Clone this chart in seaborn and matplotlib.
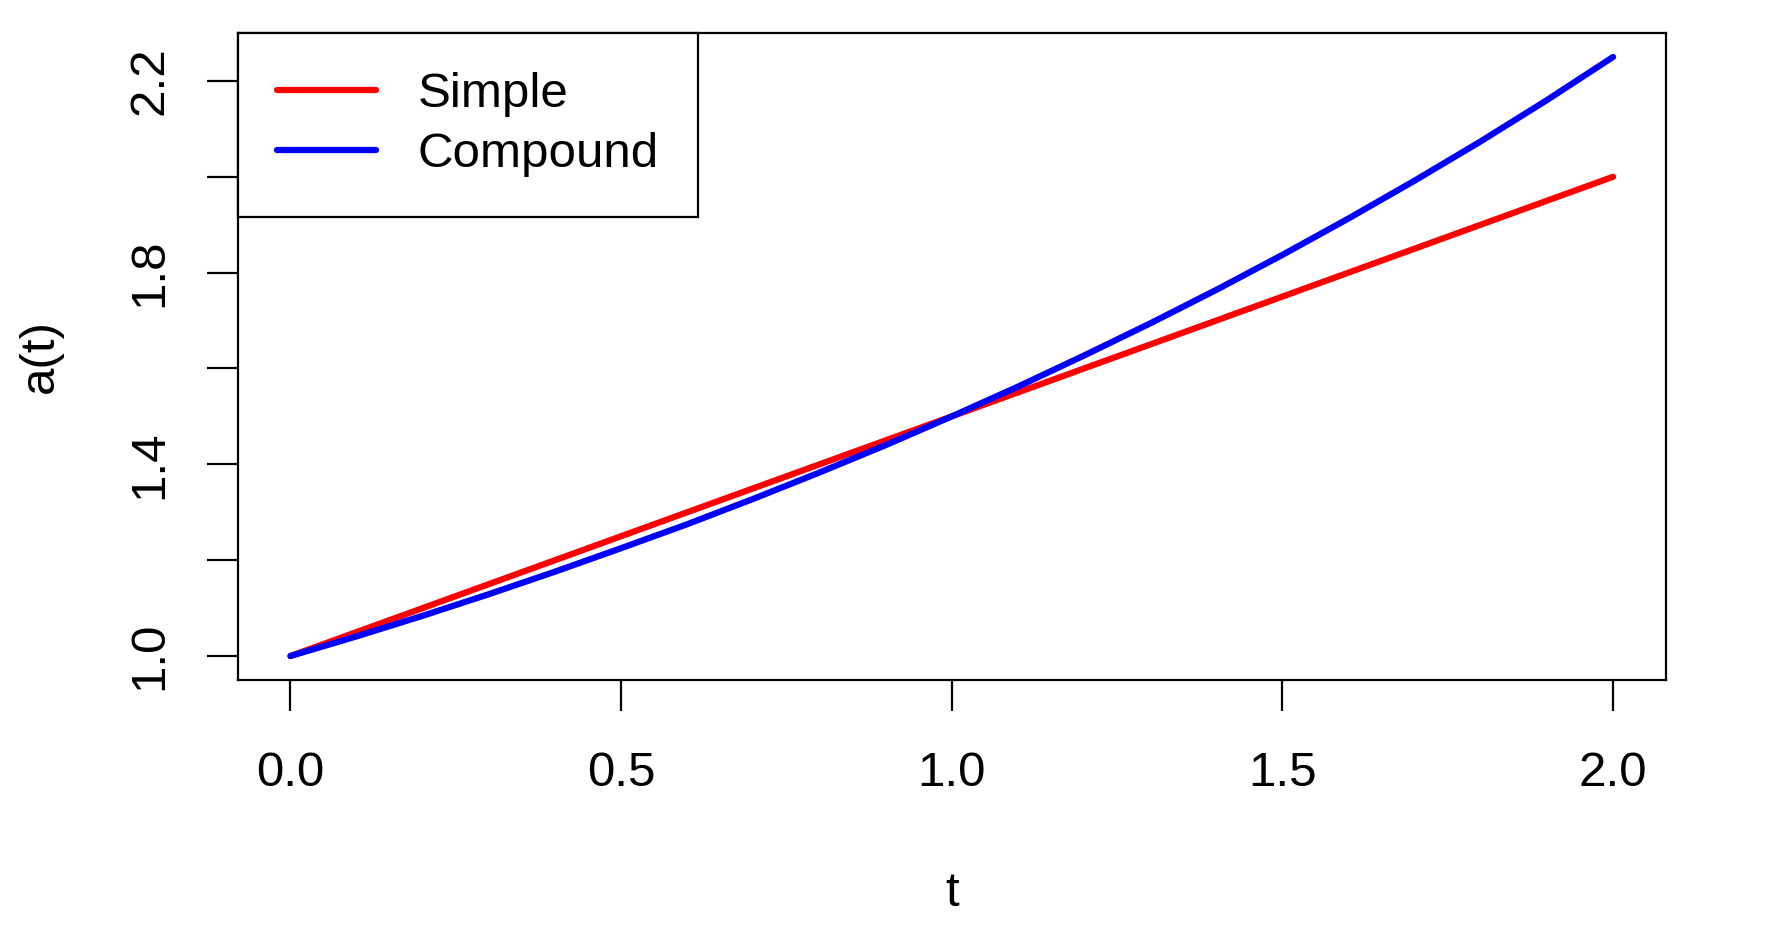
import numpy as np
import pandas as pd
import matplotlib
matplotlib.use("Agg")
import matplotlib.pyplot as plt
import seaborn as sns

# values
t_values = [0.0, 0.1, 0.2, 0.3, 0.4, 0.5, 0.6, 0.7, 0.8, 0.9, 1.0,
            1.1, 1.2, 1.3, 1.4, 1.5, 1.6, 1.7, 1.8, 1.9, 2.0]
simple_values = [1.00, 1.05, 1.10, 1.15, 1.20, 1.25, 1.30, 1.35, 1.40, 1.45, 1.50,
                 1.55, 1.60, 1.65, 1.70, 1.75, 1.80, 1.85, 1.90, 1.95, 2.00]
compound_values = [1.000, 1.041, 1.084, 1.129, 1.176, 1.225, 1.275, 1.328, 1.383, 1.440, 1.500,
                   1.562, 1.627, 1.694, 1.764, 1.837, 1.913, 1.992, 2.074, 2.160, 2.250]
series_names = ["Simple", "Compound"]
series_colors = ["red", "blue"]
x_ticks = [0.0, 0.5, 1.0, 1.5, 2.0]
y_ticks = [1.0, 1.2, 1.4, 1.6, 1.8, 2.0, 2.2]
y_ticklabels = ["1.0", "", "1.4", "", "1.8", "", "2.2"]

df = pd.DataFrame({
    "t": t_values * 2,
    "a": simple_values + compound_values,
    "kind": [series_names[0]] * len(t_values) + [series_names[1]] * len(t_values),
})

sns.set_theme(style="ticks")
plt.rcParams['font.family'] = ['Liberation Sans', 'DejaVu Sans']
plt.rcParams['text.color'] = 'black'

fs = 35.5

fig = plt.figure(figsize=(17.86, 9.32), dpi=100)
ax = fig.add_axes([0.133, 0.2704, 0.7998, 0.6942])

sns.lineplot(data=df, x="t", y="a", hue="kind", palette=series_colors,
             hue_order=series_names, linewidth=4.5, ax=ax, legend=False)
for line in ax.get_lines():
    line.set_solid_capstyle("round")

ax.set_xlim(-0.08, 2.08)
ax.set_ylim(0.95, 2.30)
ax.set_xticks(x_ticks)
ax.set_xticklabels([f"{v:.1f}" for v in x_ticks])
ax.set_yticks(y_ticks)
ax.set_yticklabels(y_ticklabels, rotation=90, va="center")

for sp in ax.spines.values():
    sp.set_visible(True)
    sp.set_linewidth(1.6)
    sp.set_color("black")

ax.tick_params(axis="both", length=22, width=1.6, color="black", labelsize=fs, labelcolor="black")
ax.tick_params(axis="x", pad=29)
ax.tick_params(axis="y", pad=25)

ax.set_xlabel("t", fontsize=fs, labelpad=54, color="black")
ax.set_ylabel("a(t)", fontsize=fs, labelpad=46, color="black")

handles = [plt.Line2D([], [], color=c, linewidth=4.5) for c in series_colors]
leg = ax.legend(handles, series_names, loc="upper left", bbox_to_anchor=(0, 1),
                borderaxespad=0, fontsize=fs, frameon=True, fancybox=False,
                framealpha=1, edgecolor="black", handlelength=2.0,
                handletextpad=0.85, labelspacing=0.3, borderpad=0.8)
leg.get_frame().set_linewidth(1.6)
for txt in leg.get_texts():
    txt.set_color("black")

fig.savefig("out.png", dpi=100, facecolor="white")
